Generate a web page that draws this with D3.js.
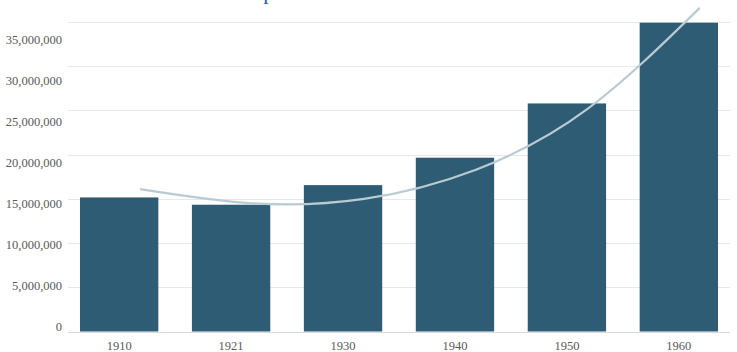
<!DOCTYPE html>
<html>
<head>
<meta charset="utf-8">
<script src="https://cdn.jsdelivr.net/npm/d3@7/dist/d3.min.js"></script>
<style>
  html, body { margin: 0; padding: 0; background: #fff; }
  svg { display: block; }
  text { font-family: "Liberation Serif", "Times New Roman", serif; }
</style>
</head>
<body>
<svg id="chart" width="737" height="352"></svg>
<script>
// ---- data ----
const titleText = "Population of Mexico";
const years = ["1910", "1921", "1930", "1940", "1950", "1960"];
const population = [15160369, 14334780, 16552722, 19653552, 25791017, 34923129];
const trendValues = [16.1e6, 14.5e6, 15.0e6, 18.3e6, 25.2e6, 36.6e6];
const yTicks = [0, 5000000, 10000000, 15000000, 20000000, 25000000, 30000000, 35000000];

// ---- layout ----
const W = 737, H = 352;
const svg = d3.select("#chart");

const x = d3.scaleBand().domain(years).range([68, 730]).paddingInner(0.3).paddingOuter(0.107);
const y = d3.scaleLinear().domain([0, 35000000]).range([331.5, 22]);
// tick labels sit on their own slightly compressed ladder in the reference
const yLab = d3.scaleLinear().domain([0, 35000000]).range([327, 40]);

// title (mostly above the visible area)
svg.append("text")
  .attr("x", 240).attr("y", -1)
  .attr("fill", "#2b6795")
  .attr("font-size", 22)
  .text(titleText);

// gridlines
svg.append("g").selectAll("line").data(yTicks).join("line")
  .attr("x1", 68).attr("x2", 730)
  .attr("y1", d => Math.round(y(d)) + 0.5).attr("y2", d => Math.round(y(d)) + 0.5)
  .attr("stroke", d => d === 0 ? "#d9d9d9" : "#e8e8e8")
  .attr("stroke-width", 1);

// y labels
svg.append("g").selectAll("text").data(yTicks).join("text")
  .attr("x", 62)
  .attr("y", d => yLab(d))
  .attr("dy", "0.35em")
  .attr("text-anchor", "end")
  .attr("font-size", 12.5)
  .attr("fill", "#5a5a5a")
  .text(d => d3.format(",")(d));

// bars
svg.append("g").selectAll("rect").data(years).join("rect")
  .attr("x", d => x(d))
  .attr("width", x.bandwidth())
  .attr("y", (d, i) => y(population[i]))
  .attr("height", (d, i) => y(0) - y(population[i]))
  .attr("fill", "#2e5c74");

// x labels
svg.append("g").selectAll("text").data(years).join("text")
  .attr("x", d => x(d) + x.bandwidth() / 2)
  .attr("y", 350)
  .attr("text-anchor", "middle")
  .attr("font-size", 12.5)
  .attr("fill", "#5a5a5a")
  .text(d => d);

// trend line
const shift = x.step() * 0.1875;
const line = d3.line()
  .x((d, i) => x(years[i]) + x.bandwidth() / 2 + shift)
  .y(d => y(d))
  .curve(d3.curveNatural);
svg.append("path")
  .datum(trendValues)
  .attr("d", line)
  .attr("fill", "none")
  .attr("stroke", "#b9cad3")
  .attr("stroke-width", 2.2);
</script>
</body>
</html>
